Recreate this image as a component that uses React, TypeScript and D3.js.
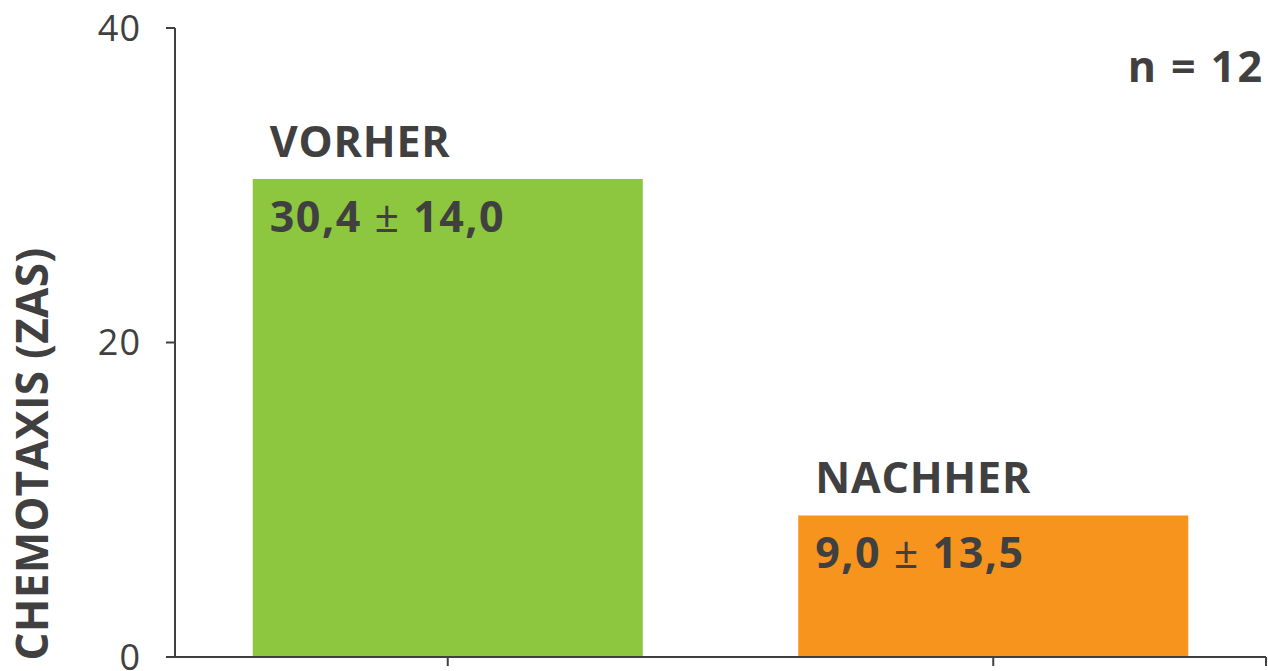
import React from "react";
import * as d3 from "d3";

const categories = ["VORHER", "NACHHER"];
const values = [30.4, 9.0];
const meanLabels = ["30,4", "9,0"];
const sdLabels = ["14,0", "13,5"];
const colors = ["#8dc63f", "#f7941d"];
const yTicks = [0, 20, 40];
const yTitle = "CHEMOTAXIS (ZAS)";
const note = "n = 12";

const W = 1268;
const H = 671;
const ink = "#404040";
const font = "'Open Sans', 'Noto Sans', sans-serif";

export default function App() {
  const x0 = 175;
  const x1 = 1266;
  const y = d3.scaleLinear().domain([0, 40]).range([657, 28]);
  const xb = d3.scaleBand<string>().domain(categories).range([x0, x1]).padding(0);
  const barW = xb.bandwidth() * 0.715;

  return (
    <svg
      width={W}
      height={H}
      style={{ position: "absolute", left: 0, top: 0, background: "#fff" }}
      fontFamily={font}
    >
      {categories.map((c, i) => {
        const cx = (xb(c) as number) + xb.bandwidth() / 2;
        const left = cx - barW / 2;
        const top = y(values[i]);
        return (
          <g key={c}>
            <rect x={left} y={top} width={barW} height={y(0) - top} fill={colors[i]} />
            <text x={left + 17} y={top - 22} fontSize={43} fontWeight={700} fill={ink} letterSpacing={0.8}>
              {c}
            </text>
            <text x={left + 17} y={top + 53} fontSize={43} fontWeight={700} fill={ink} letterSpacing={1.5}>
              {meanLabels[i]}
              <tspan fontWeight={400}>{" ± "}</tspan>
              {sdLabels[i]}
            </text>
          </g>
        );
      })}

      {/* y axis */}
      <line x1={x0} x2={x0} y1={y(40)} y2={y(0)} stroke={ink} strokeWidth={2} />
      {yTicks.map((t) => (
        <g key={t}>
          <line x1={x0 - 9} x2={x0} y1={y(t)} y2={y(t)} stroke={ink} strokeWidth={2} />
          <text
            x={141}
            y={y(t)}
            dy="0.36em"
            textAnchor="end"
            fontSize={36}
            fill={ink}
            letterSpacing={1}
          >
            {t}
          </text>
        </g>
      ))}

      {/* x axis */}
      <line x1={x0 - 9} x2={x1} y1={y(0)} y2={y(0)} stroke={ink} strokeWidth={2} />
      {categories.map((c) => {
        const cx = (xb(c) as number) + xb.bandwidth() / 2;
        return <line key={c} x1={cx} x2={cx} y1={y(0)} y2={y(0) + 9} stroke={ink} strokeWidth={2} />;
      })}
      <line x1={x1} x2={x1} y1={y(0)} y2={y(0) + 9} stroke={ink} strokeWidth={2} />

      {/* y title */}
      <text
        transform={`translate(48, 454) rotate(-90)`}
        textAnchor="middle"
        fontSize={44}
        fontWeight={700}
        fill={ink}
        letterSpacing={0.3}
      >
        {yTitle}
      </text>

      <text x={1264} y={82} textAnchor="end" fontSize={43} fontWeight={700} fill={ink} letterSpacing={2}>
        {note}
      </text>
    </svg>
  );
}
